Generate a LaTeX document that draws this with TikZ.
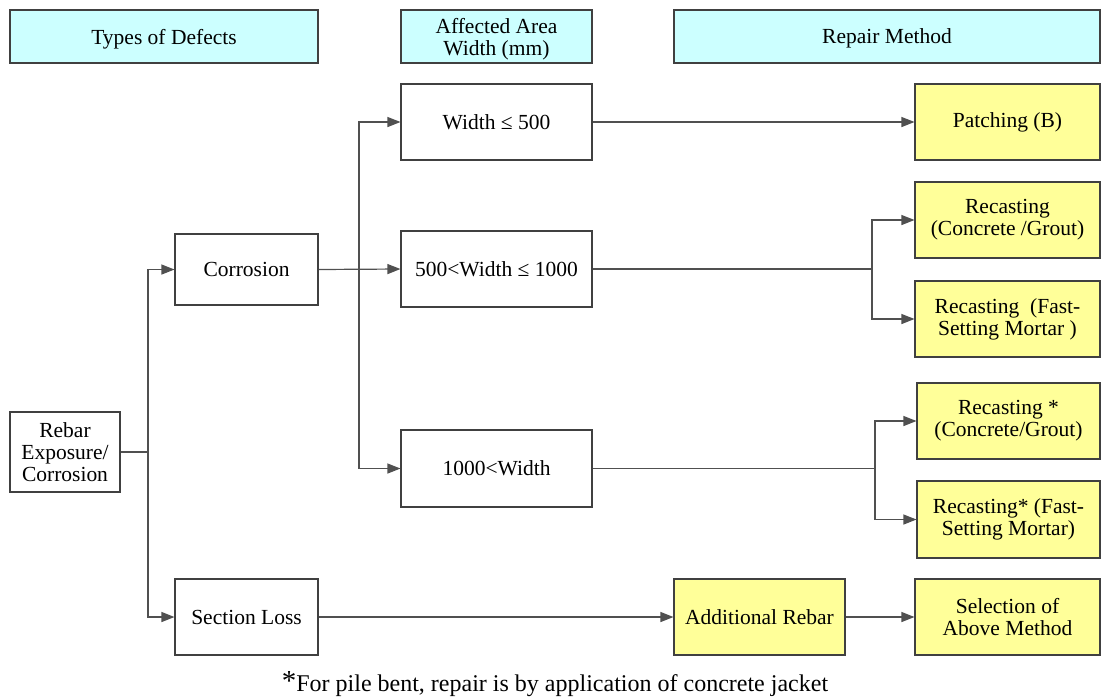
\documentclass[tikz,border=0pt]{standalone}
\usepackage{fontspec}
\setmainfont{Liberation Serif}
\usetikzlibrary{arrows.meta}
\definecolor{headfill}{HTML}{CCFFFF}
\definecolor{methfill}{HTML}{FFFF99}
\definecolor{edge}{HTML}{404040}
\definecolor{wire}{HTML}{505050}
\begin{document}
\begin{tikzpicture}[x=1pt,y=-1pt,
  base/.style={draw=edge, line width=1.1pt, align=center, inner sep=2pt,
    font=\fontsize{21.5}{22}\selectfont},
  head/.style={base, fill=headfill, text depth=0pt},
  plain/.style={base, fill=white},
  meth/.style={base, fill=methfill},
  wire/.style={draw=wire, line width=1.2pt},
  arr/.style={wire, -{Triangle[length=13pt,width=10pt]}}]
\useasboundingbox (0,0) rectangle (1101,697);

% column headings
\node[head, minimum width=308, minimum height=53] (h1) at (164,36.5) {Types of Defects};
\node[head, minimum width=191, minimum height=53] (h2) at (496.5,36.5) {Affected Area\\Width (mm)};
\node[head, minimum width=426, minimum height=53] (h3) at (887,36.5) {Repair Method};

% defect types
\node[plain, minimum width=110, minimum height=80] (reb) at (65,452) {Rebar\\Exposure/\\Corrosion};
\node[plain, minimum width=143, minimum height=71] (corr) at (246.5,269.5) {Corrosion};
\node[plain, minimum width=143, minimum height=76] (sl) at (246.5,617) {Section Loss};

% width ranges
\node[plain, minimum width=191, minimum height=76] (w1) at (496.5,122) {Width ≤ 500};
\node[plain, minimum width=191, minimum height=76] (w2) at (496.5,269) {500<Width ≤ 1000};
\node[plain, minimum width=191, minimum height=77] (w3) at (496.5,468.5) {1000<Width};

% repair methods
\node[meth, minimum width=185, minimum height=76] (pb) at (1007.5,122) {Patching (B)};
\node[meth, minimum width=185, minimum height=76] (r1) at (1007.5,220) {Recasting\\(Concrete /Grout)};
\node[meth, minimum width=185, minimum height=76] (r2) at (1007.5,319) {Recasting\ \ (Fast-\\Setting Mortar )};
\node[meth, minimum width=183, minimum height=76] (r3) at (1008.5,421) {Recasting *\\(Concrete/Grout)};
\node[meth, minimum width=183, minimum height=77] (r4) at (1008.5,519.5) {Recasting* (Fast-\\Setting Mortar)};
\node[meth, minimum width=171, minimum height=76] (ar) at (759.5,617) {Additional Rebar};
\node[meth, minimum width=185, minimum height=76] (sel) at (1007.5,617) {Selection of\\Above Method};

% footnote
\node[font=\fontsize{24}{26}\selectfont, inner sep=0pt] (fn) at (555,684)
  {\raisebox{1pt}{\fontsize{29}{29}\selectfont *}For pile bent, repair is by application of concrete jacket};

% branch points
\coordinate (j1) at (148,452);
\coordinate (j2) at (359,269);
\coordinate (j3) at (872,269);
\coordinate (j4) at (875,468.5);

% connectors
\draw[wire] (reb.east) -- (j1);
\draw[arr] (j1) |- (corr.west);
\draw[arr] (j1) |- (sl.west);

\draw[arr] (corr.east) -- (w2.west);
\draw[arr] (j2) |- (w1.west);
\draw[arr] (j2) |- (w3.west);

\draw[arr] (w1.east) -- (pb.west);
\draw[wire] (w2.east) -- (j3);
\draw[arr] (j3) |- (r1.west);
\draw[arr] (j3) |- (r2.west);
\draw[wire] (w3.east) -- (j4);
\draw[arr] (j4) |- (r3.west);
\draw[arr] (j4) |- (r4.west);

\draw[arr] (sl.east) -- (ar.west);
\draw[arr] (ar.east) -- (sel.west);
\end{tikzpicture}
\end{document}
